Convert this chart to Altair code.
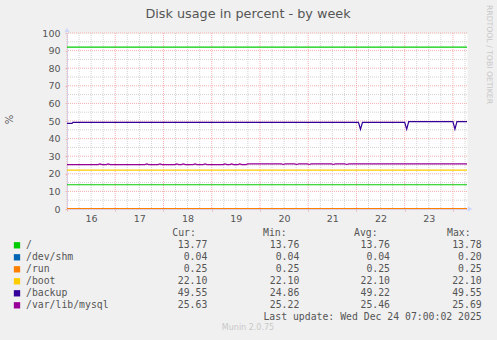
import altair as alt
import pandas as pd

# ---------------- data ----------------
TITLE = "Disk usage in percent - by week"
Y_TITLE = "%"
SIDE_TEXT = "RRDTOOL / TOBI OETIKER"
FOOTER = "Munin 2.0.75"
LAST_UPDATE = "Last update: Wed Dec 24 07:00:02 2025"

NAMES = ["/", "/dev/shm", "/run", "/boot", "/backup", "/var/lib/mysql"]
COLORS = ["#00CC00", "#0066B3", "#FF8000", "#FFCC00", "#330099", "#990099"]
CUR = ["13.77", "0.04", "0.25", "22.10", "49.55", "25.63"]
MIN = ["13.76", "0.04", "0.25", "22.10", "24.86", "25.22"]
AVG = ["13.76", "0.04", "0.25", "22.10", "49.22", "25.46"]
MAX = ["13.78", "0.20", "0.25", "22.10", "49.55", "25.69"]
HEADERS = ["Cur:", "Min:", "Avg:", "Max:"]

DAY_LABELS = ["16", "17", "18", "19", "20", "21", "22", "23"]
X_END = 199  # hours from Dec 16 00:00 to Dec 24 07:00
Y_MAJOR = [0, 10, 20, 30, 40, 50, 60, 70, 80, 90, 100]
Y_MINOR = [5, 15, 25, 35, 45, 55, 65, 75, 85, 95]
X_MAJOR = [0, 24, 48, 72, 96, 120, 144, 168, 192]
X_MINOR = [6, 12, 18, 30, 36, 42, 54, 60, 66, 78, 84, 90, 102, 108, 114,
           126, 132, 138, 150, 156, 162, 174, 180, 186, 198]
X_LABEL_AT = [12, 36, 60, 84, 108, 132, 156, 180]
WARNING = 92

# series: hours since Dec 16 00:00 and values (%)
root_h = [0, 199]
root_v = [13.77, 13.77]
shm_h = [0, 199]
shm_v = [0.04, 0.04]
run_h = [0, 199]
run_v = [0.25, 0.25]
boot_h = [0, 199]
boot_v = [22.10, 22.10]
backup_h = [0, 2.5, 3, 145, 146, 147, 168, 169, 170, 192, 193, 194, 199]
backup_v = [48.6, 48.6, 49.2, 49.2, 45.3, 49.2, 49.2, 45.3, 49.6, 49.6, 45.3, 49.6, 49.6]
mysql_h = [0, 15.4, 16.4, 17.4, 19.5, 20.5, 21.5, 38.7, 39.7, 40.7, 45.3, 46.3, 47.3,
           53.6, 54.6, 55.6, 56.9, 57.9, 58.9, 62.7, 63.7, 64.7, 67.7, 68.7, 69.7,
           77.6, 78.6, 79.6, 80.9, 81.9, 82.9, 85, 86, 87, 89, 90,
           106.6, 107.6, 108.6, 113.3, 114.3, 115.3, 119.5, 120.5, 121.5,
           131.5, 132.5, 133.5, 138.2, 139.2, 140.2, 199]
mysql_v = [25.25, 25.25, 25.65, 25.25, 25.25, 25.65, 25.25, 25.25, 25.65, 25.25, 25.25, 25.65, 25.25,
           25.25, 25.65, 25.25, 25.25, 25.65, 25.25, 25.25, 25.65, 25.25, 25.25, 25.65, 25.25,
           25.25, 25.65, 25.25, 25.25, 25.65, 25.25, 25.25, 25.65, 25.25, 25.25, 25.65,
           25.65, 25.3, 25.65, 25.65, 25.3, 25.65, 25.65, 25.3, 25.65,
           25.65, 25.3, 25.65, 25.65, 25.3, 25.65, 25.65]

SERIES = [(root_h, root_v), (shm_h, shm_v), (run_h, run_v),
          (boot_h, boot_v), (backup_h, backup_v), (mysql_h, mysql_v)]

rows = []
for k, (hs, vs) in enumerate(SERIES):
    for h, v in zip(hs, vs):
        rows.append({"h": h, "v": v, "name": NAMES[k], "k": k})
series_df = pd.DataFrame(rows)

# ---------------- layout / style ----------------
W, H = 400, 176
PAD_L, PAD_T = 67, 33
MAJOR = "#f3b0b0"
MINOR = "#d2d2d2"
AXIS_C = "#cfd6f8"
TXT = "#555555"
MONO = "DejaVu Sans Mono"
SANS = "DejaVu Sans"
LW = 1.2

color_scale = alt.Scale(domain=NAMES, range=COLORS)
x_scale = alt.Scale(domain=[0, X_END], nice=False, zero=False)
y_scale = alt.Scale(domain=[0, 100], nice=False)
days_js = "[" + ",".join("'%s'" % d for d in DAY_LABELS) + "]"

x_axis = alt.Axis(
    title=None,
    values=X_MAJOR + X_LABEL_AT,
    labelExpr="datum.value % 24 === 12 ? " + days_js + "[floor(datum.value / 24)] : ''",
    grid=False,
    tickColor=MAJOR,
    tickOpacity={"condition": {"test": "datum.value % 24 === 0", "value": 1}, "value": 0},
    tickSize=2,
    labelPadding=2,
    labelFont=SANS,
    labelFontSize=9.5,
    labelColor=TXT,
    labelOverlap=False,
    labelFlush=False,
    domainColor=AXIS_C,
)
y_axis = alt.Axis(
    title=None,
    values=Y_MAJOR,
    grid=False,
    tickColor=MAJOR,
    tickSize=2,
    labelPadding=5,
    labelFont=SANS,
    labelFontSize=9.5,
    labelColor=TXT,
    labelOverlap=False,
    labelFlush=False,
    domainColor=AXIS_C,
)


# grid lines (through the scales)
def vgrid(vals, color):
    return alt.Chart(pd.DataFrame({"g": vals})).mark_rule(
        color=color, strokeWidth=1, strokeDash=[1, 1]).encode(
        x=alt.X("g:Q", scale=x_scale, axis=x_axis))


def hgrid(vals, color):
    return alt.Chart(pd.DataFrame({"g": vals})).mark_rule(
        color=color, strokeWidth=1, strokeDash=[1, 1]).encode(
        y=alt.Y("g:Q", scale=y_scale, axis=y_axis))


grid_layers = [vgrid(X_MINOR, MINOR), hgrid(Y_MINOR, MINOR), vgrid(X_MAJOR, MAJOR), hgrid(Y_MAJOR, MAJOR)]

base = alt.Chart(series_df)
lines = base.mark_line(strokeWidth=LW, clip=True).encode(
    x=alt.X("h:Q", scale=x_scale, axis=x_axis),
    y=alt.Y("v:Q", scale=y_scale, axis=y_axis),
    color=alt.Color("name:N", scale=color_scale, legend=None),
    detail="k:N",
)

warn = alt.Chart(pd.DataFrame({"w": [WARNING]})).mark_rule(color=COLORS[0], strokeWidth=1.2).encode(
    y=alt.Y("w:Q", scale=y_scale, axis=y_axis)
)

one = pd.DataFrame({"t": [0]})


def label(text, x, y, size, color=TXT, font=SANS, align="center", baseline="alphabetic", angle=0):
    kw = dict(font=font, fontSize=size, color=color, align=align, baseline=baseline, text=text)
    if angle:
        kw["angle"] = angle
    return alt.Chart(one).mark_text(**kw).encode(x=alt.value(x - PAD_L), y=alt.value(y - PAD_T))


title = label(TITLE, 248, 18.3, 12.8)
ylab = label(Y_TITLE, 9.7, 119.5, 10, baseline="middle", angle=270)
side = label(SIDE_TEXT, 488.5, 5, 7.7, color="#c8c8c8", align="left", baseline="middle", angle=90)
footer = label(FOOTER, 248, 330, 8, color="#c8c8c8")
last = label(LAST_UPDATE, 481.7, 320, 9.8, font=MONO, align="right")

arrow_up = alt.Chart(one).mark_point(shape="triangle-up", filled=True, size=28, color=AXIS_C, opacity=1).encode(
    x=alt.value(0), y=alt.value(-3))
arrow_right = alt.Chart(one).mark_point(shape="triangle-right", filled=True, size=28, color=AXIS_C, opacity=1).encode(
    x=alt.value(W + 3), y=alt.value(H))

# legend table
ROW0, ROW_STEP = 248.3, 12.0
leg_df = pd.DataFrame({
    "name": NAMES, "cur": CUR, "mn": MIN, "avg": AVG, "mx": MAX,
    "py": [ROW0 - PAD_T + ROW_STEP * i for i in range(len(NAMES))],
})
leg_df["sq"] = leg_df["py"] - 3
leg = alt.Chart(leg_df)
squares = leg.mark_square(size=40, opacity=1).encode(
    x=alt.value(17 - PAD_L),
    y=alt.Y("sq:Q", scale=None, axis=None),
    color=alt.Color("name:N", scale=color_scale, legend=None),
)
legend_layers = [squares]
for field, xr, align in [("name", 26, "left"), ("cur", 207.3, "right"), ("mn", 299.3, "right"),
                         ("avg", 390, "right"), ("mx", 481.7, "right")]:
    legend_layers.append(
        leg.mark_text(font=MONO, fontSize=9.8, color=TXT, align=align, baseline="alphabetic").encode(
            x=alt.value(xr - PAD_L),
            y=alt.Y("py:Q", scale=None, axis=None),
            text=alt.Text(field + ":N"),
        )
    )
for htxt, hx in zip(HEADERS, [172.3, 263, 354, 447]):
    legend_layers.append(label(htxt, hx, 236, 9.8, font=MONO, align="left"))

chart = alt.layer(
    *grid_layers, lines, warn, arrow_up, arrow_right, title, ylab, side, footer, last, *legend_layers
).properties(
    width=W, height=H,
    autosize=alt.AutoSizeParams(type="none"),
    padding={"left": PAD_L, "top": PAD_T, "right": 497 - PAD_L - W, "bottom": 340 - PAD_T - H},
    background="#F0F0F0",
).configure_view(fill="white", stroke="transparent")

chart.save("out.html", embed_options={"renderer": "svg", "actions": False})
